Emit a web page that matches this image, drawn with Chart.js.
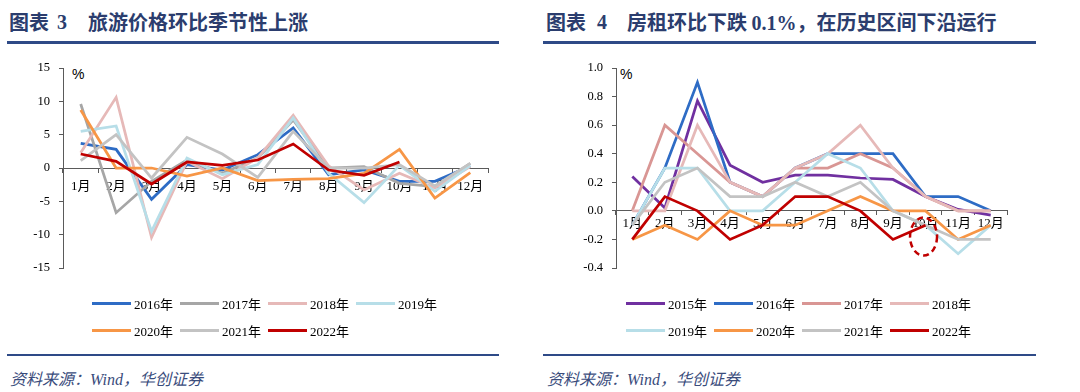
<!DOCTYPE html>
<html><head><meta charset="utf-8">
<script src="https://cdn.jsdelivr.net/npm/chart.js@4.4.1/dist/chart.umd.min.js"></script>
<style>
html,body{margin:0;padding:0;}
body{width:1080px;height:392px;background:#fff;position:relative;overflow:hidden;font-family:'Liberation Serif','Noto Sans CJK SC',serif;}
.t{position:absolute;top:12px;line-height:20px;font-family:'Noto Sans CJK SC',sans-serif;font-weight:bold;font-size:20px;color:#2B3D6E;white-space:nowrap;}
.tn{font-family:'Liberation Serif',serif;font-weight:bold;}
.rule{position:absolute;background:#2E4A87;}
.src{position:absolute;top:366px;font-family:'Liberation Serif','Noto Sans CJK SC',serif;font-style:italic;font-size:16px;color:#3A4C7C;white-space:nowrap;}
.pct{position:absolute;top:66px;font-family:'Liberation Sans',sans-serif;font-size:14px;color:#000;}
canvas{position:absolute;top:0;}
.lg{position:absolute;height:16px;display:flex;align-items:center;white-space:nowrap;font-size:13px;color:#000;font-family:'Liberation Serif','Noto Sans CJK SC',serif;}
.lg span.l{display:inline-block;width:39px;height:3px;margin-right:3px;}
</style></head>
<body>
<div class="t" style="left:9px">图表</div>
<div class="t tn" style="left:57px">3</div>
<div class="t" style="left:88px">旅游价格环比季节性上涨</div>
<div class="t" style="left:546px">图表</div>
<div class="t tn" style="left:597px">4</div>
<div class="t" style="left:627px">房租环比下跌 <span class="tn">0.1%</span>，在历史区间下沿运行</div>
<div class="rule" style="left:7px;top:41px;width:492px;height:3px"></div>
<div class="rule" style="left:543px;top:41px;width:493px;height:3px"></div>
<div class="rule" style="left:7px;top:354px;width:492px;height:2px"></div>
<div class="rule" style="left:543px;top:354px;width:493px;height:2px"></div>
<div class="src" style="left:10px">资料来源：Wind，华创证券</div>
<div class="src" style="left:547px">资料来源：Wind，华创证券</div>
<div class="pct" style="left:72px">%</div>
<div class="pct" style="left:620px">%</div>
<canvas id="c1" width="540" height="392" style="left:0"></canvas>
<canvas id="c2" width="540" height="392" style="left:540px"></canvas>
<div id="lg1"></div>
<div id="lg2"></div>
<script>
const months = ['1月','2月','3月','4月','5月','6月','7月','8月','9月','10月','11月','12月'];

// 旅游价格环比 (%)
const travelLabels = ['2016年','2017年','2018年','2019年','2020年','2021年','2022年'];
const travel2016 = [3.7, 2.8, -4.7, 0.5, -0.3, 2.0, 6.0, -1.0, -0.3, -2.0, -2.0, 0.3];
const travel2017 = [9.6, -6.7, -2.0, 1.2, -0.8, 1.5, 7.2, 0.0, 0.2, -2.3, -2.8, 0.7];
const travel2018 = [2.3, 10.6, -10.4, 1.0, -1.6, 1.5, 7.9, 0.3, -3.3, -0.8, -3.0, 0.2];
const travel2019 = [5.5, 6.3, -9.5, 1.5, -1.0, 0.5, 7.5, -0.8, -5.2, 0.4, -3.5, 0.4];
const travel2020 = [8.7, 0.0, 0.0, -1.2, 0.0, -1.9, -1.7, -1.6, -0.8, 2.8, -4.5, -0.7];
const travel2021 = [1.1, 5.0, -1.5, 4.6, 2.1, -1.4, 5.5, 0.0, 0.0, 0.5, -2.7, 0.7];
const travel2022 = [2.1, 1.0, -2.4, 0.9, 0.4, 1.2, 3.6, -0.3, -1.1, 0.9];
const travelTicks = [-15, -10, -5, 0, 5, 10, 15];

// 房租环比 (%)
const rentLabels = ['2015年','2016年','2017年','2018年','2019年','2020年','2021年','2022年'];
const rent2015 = [0.24, 0.02, 0.77, 0.32, 0.20, 0.25, 0.25, 0.23, 0.22, 0.10, 0.01, -0.03];
const rent2016 = [-0.1, 0.3, 0.9, 0.2, 0.1, 0.3, 0.4, 0.4, 0.4, 0.1, 0.1, 0.0];
const rent2017 = [0.0, 0.6, 0.4, 0.2, 0.1, 0.3, 0.3, 0.4, 0.3, 0.1, 0.0, 0.0];
const rent2018 = [0.0, 0.0, 0.6, 0.2, 0.1, 0.3, 0.4, 0.6, 0.3, 0.1, 0.0, 0.0];
const rent2019 = [-0.1, 0.3, 0.3, 0.0, 0.0, 0.2, 0.4, 0.3, 0.0, -0.1, -0.3, -0.1];
const rent2020 = [-0.2, -0.1, -0.2, 0.0, -0.1, -0.1, 0.0, 0.1, 0.0, 0.0, -0.2, -0.1];
const rent2021 = [-0.1, 0.2, 0.3, 0.1, 0.1, 0.2, 0.1, 0.2, 0.0, -0.1, -0.2, -0.2];
const rent2022 = [-0.2, 0.1, 0.0, -0.2, -0.1, 0.1, 0.1, 0.0, -0.2, -0.1];
const rentTicks = [-0.4, -0.2, 0.0, 0.2, 0.4, 0.6, 0.8, 1.0];

const travelColors = ['#2E6CC5','#A6A6A6','#E6B9B8','#B7DEE8','#F79646','#C3C3C3','#C00000'];
const rentColors = ['#7030A0','#2E6CC5','#D99694','#E6B9B8','#B7DEE8','#F79646','#C3C3C3','#C00000'];

const AX = '#5a5a5a';
const tickFont = {family:"'Liberation Serif','Noto Sans CJK SC',serif", size:13};

function makeSets(labels, series, colors){
  return series.map((d,i)=>({label:labels[i], data:d, borderColor:colors[i], backgroundColor:colors[i],
    borderWidth:2.75, pointRadius:0, tension:0, fill:false, order:series.length-i}));
}

function makeChart(id, sets, ticksArr, yW, padRight, fmt, xPad, extraPlugins){
  return new Chart(document.getElementById(id), {
    type:'line',
    data:{labels:months, datasets:sets},
    options:{
      responsive:false, animation:false, devicePixelRatio:1,
      layout:{padding:{left:0, top:68, right:padRight, bottom:124}},
      plugins:{legend:{display:false}, tooltip:{enabled:false}},
      scales:{
        x:{type:'category', position:{y:0}, offset:true,
          grid:{offset:true, drawOnChartArea:false, drawTicks:true, tickLength:4, color:AX},
          border:{color:AX, width:1},
          ticks:{font:tickFont, color:'#000', padding:xPad, maxRotation:0, autoSkip:false}},
        y:{min:ticksArr[0], max:ticksArr[ticksArr.length-1],
          afterBuildTicks:(s)=>{s.ticks = ticksArr.map(v=>({value:v}));},
          afterFit:(s)=>{s.width = yW;},
          grid:{drawOnChartArea:false, drawTicks:true, tickLength:4, color:AX},
          border:{color:AX, width:1},
          ticks:{font:{family:"'Liberation Serif',serif", size:12.5}, color:'#000', padding:9, callback:fmt}}
      }
    },
    plugins:extraPlugins||[]
  });
}

const c1 = makeChart('c1', makeSets(travelLabels,[travel2016,travel2017,travel2018,travel2019,travel2020,travel2021,travel2022],travelColors),
  travelTicks, 63, 52, (v)=>String(v), 7);

const ellipsePlugin = {id:'ell', afterDraw(chart){
  const ctx = chart.ctx, xs = chart.scales.x, ys = chart.scales.y;
  const cx = xs.getPixelForValue(9) - 2, cy = ys.getPixelForValue(-0.18);
  ctx.save(); ctx.beginPath(); ctx.setLineDash([6,4]); ctx.lineWidth = 2.5; ctx.strokeStyle = '#C00000';
  ctx.ellipse(cx, cy, 13.5, 19, 0, 0, Math.PI*2); ctx.stroke(); ctx.restore();
}};

const c2 = makeChart('c2', makeSets(rentLabels,[rent2015,rent2016,rent2017,rent2018,rent2019,rent2020,rent2021,rent2022],rentColors),
  rentTicks, 76, 73, (v)=>Number(v).toFixed(1), 1, [ellipsePlugin]);

function buildLegend(el, chart, left){
  const sets = chart.data.datasets;
  sets.forEach((ds,i)=>{
    const d = document.createElement('div');
    d.className = 'lg';
    d.style.left = (left + (i%4)*88) + 'px';
    d.style.top = (i<4 ? 295 : 322) + 'px';
    const l = document.createElement('span'); l.className='l'; l.style.background = ds.borderColor;
    d.appendChild(l); d.appendChild(document.createTextNode(ds.label));
    el.appendChild(d);
  });
}
buildLegend(document.getElementById('lg1'), c1, 92);
buildLegend(document.getElementById('lg2'), c2, 626);
</script>
</body></html>
